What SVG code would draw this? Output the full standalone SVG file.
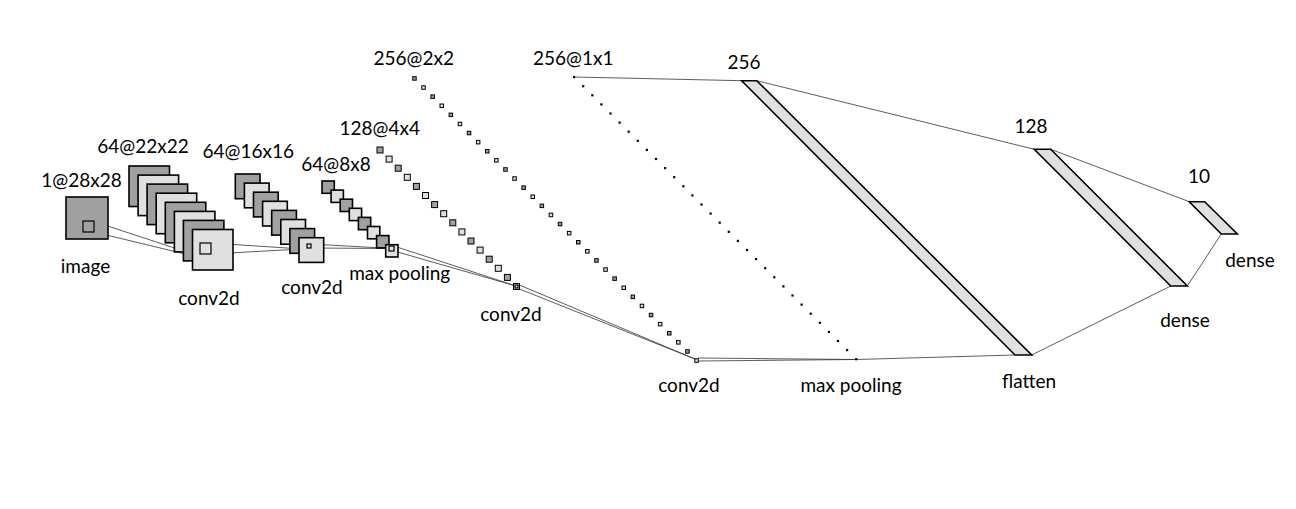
<svg xmlns="http://www.w3.org/2000/svg" width="1296" height="509" viewBox="0 0 1296 509">
<style>
text{font-family:Lato,"Liberation Sans",sans-serif;font-size:19px;fill:#000;text-anchor:middle}
.d{fill:#a0a0a0;stroke:#000;stroke-width:1.6}
.l{fill:#e0e0e0;stroke:#000;stroke-width:1.6}
.ds{fill:#a0a0a0;stroke:#000;stroke-width:1}
.ls{fill:#e0e0e0;stroke:#000;stroke-width:1}
.k{fill:none;stroke:#000;stroke-width:1.2}
.dot{fill:#000}
.c{stroke:#333;stroke-width:0.8;fill:none}
.bar{fill:#e0e0e0;stroke:#000;stroke-width:1.6}
</style>
<rect width="1296" height="509" fill="#fff"/>
<g id="connectors">
<line class="c" x1="94" y1="221.5" x2="214" y2="261"/>
<line class="c" x1="94" y1="232" x2="214" y2="261"/>
<line class="c" x1="211" y1="243" x2="302" y2="249"/>
<line class="c" x1="211" y1="254" x2="302" y2="249"/>
<line class="c" x1="311" y1="244" x2="391" y2="248.5"/>
<line class="c" x1="311" y1="248" x2="391" y2="248.5"/>
<line class="c" x1="394" y1="246" x2="516" y2="286"/>
<line class="c" x1="394" y1="251" x2="516" y2="286"/>
<line class="c" x1="517" y1="284" x2="695" y2="359"/>
<line class="c" x1="517" y1="288" x2="695" y2="359"/>
<line class="c" x1="698" y1="358" x2="856" y2="359.5"/>
<line class="c" x1="698" y1="361" x2="856" y2="359.5"/>
<line class="c" x1="574" y1="77" x2="741.7" y2="80.7"/>
<line class="c" x1="856" y1="359.5" x2="1015" y2="355"/>
<line class="c" x1="756.7" y1="80.7" x2="1034.3" y2="149.3"/>
<line class="c" x1="1031.7" y1="355" x2="1170.7" y2="286"/>
<line class="c" x1="1050.7" y1="149.3" x2="1189.3" y2="201.7"/>
<line class="c" x1="1187.3" y1="286" x2="1221.3" y2="234"/>
</g>
<g id="image">
<rect class="d" x="66" y="197" width="42" height="42"/>
<rect class="k" x="83" y="221" width="11" height="11"/>
<text x="85.5" y="273">image</text>
<text x="81.5" y="186.5">1@28x28</text>
</g>
<g id="conv1">
<rect class="d" x="129" y="166" width="40.5" height="40.5"/>
<rect class="l" x="138.1" y="175.1" width="40.5" height="40.5"/>
<rect class="d" x="147.1" y="184.1" width="40.5" height="40.5"/>
<rect class="l" x="156.2" y="193.2" width="40.5" height="40.5"/>
<rect class="d" x="165.3" y="202.3" width="40.5" height="40.5"/>
<rect class="l" x="174.4" y="211.4" width="40.5" height="40.5"/>
<rect class="d" x="183.4" y="220.4" width="40.5" height="40.5"/>
<rect class="l" x="192.5" y="229.5" width="40.5" height="40.5"/>
<rect class="k" x="200" y="243" width="11" height="11"/>
<text x="143" y="152.7">64@22x22</text>
<text x="209" y="305">conv2d</text>
</g>
<g id="conv2">
<rect class="d" x="235.3" y="174" width="24.7" height="24.7"/>
<rect class="l" x="244.4" y="183.1" width="24.7" height="24.7"/>
<rect class="d" x="253.5" y="192.2" width="24.7" height="24.7"/>
<rect class="l" x="262.6" y="201.3" width="24.7" height="24.7"/>
<rect class="d" x="271.7" y="210.4" width="24.7" height="24.7"/>
<rect class="l" x="280.8" y="219.5" width="24.7" height="24.7"/>
<rect class="d" x="289.9" y="228.6" width="24.7" height="24.7"/>
<rect class="l" x="299" y="237.7" width="24.7" height="24.7"/>
<rect class="k" x="307" y="244" width="4" height="4"/>
<text x="248.3" y="158">64@16x16</text>
<text x="312" y="294">conv2d</text>
</g>
<g id="pool1">
<rect class="d" x="322" y="181" width="12.3" height="12.3"/>
<rect class="l" x="331.1" y="190.1" width="12.3" height="12.3"/>
<rect class="d" x="340.2" y="199.2" width="12.3" height="12.3"/>
<rect class="l" x="349.3" y="208.3" width="12.3" height="12.3"/>
<rect class="d" x="358.4" y="217.4" width="12.3" height="12.3"/>
<rect class="l" x="367.5" y="226.5" width="12.3" height="12.3"/>
<rect class="d" x="376.6" y="235.6" width="12.3" height="12.3"/>
<rect class="l" x="385.7" y="244.7" width="12.3" height="12.3"/>
<rect class="k" x="389" y="246" width="5" height="5"/>
<text x="336" y="170.5">64@8x8</text>
<text x="399.7" y="280">max pooling</text>
</g>
<g id="conv3">
<rect class="ds" x="377" y="147" width="6" height="6"/>
<rect class="ls" x="386.1" y="156.1" width="6" height="6"/>
<rect class="ds" x="395.2" y="165.2" width="6" height="6"/>
<rect class="ls" x="404.3" y="174.3" width="6" height="6"/>
<rect class="ds" x="413.4" y="183.4" width="6" height="6"/>
<rect class="ls" x="422.5" y="192.5" width="6" height="6"/>
<rect class="ds" x="431.6" y="201.6" width="6" height="6"/>
<rect class="ls" x="440.7" y="210.7" width="6" height="6"/>
<rect class="ds" x="449.8" y="219.8" width="6" height="6"/>
<rect class="ls" x="458.9" y="228.9" width="6" height="6"/>
<rect class="ds" x="468" y="238" width="6" height="6"/>
<rect class="ls" x="477.1" y="247.1" width="6" height="6"/>
<rect class="ds" x="486.2" y="256.2" width="6" height="6"/>
<rect class="ls" x="495.3" y="265.3" width="6" height="6"/>
<rect class="ds" x="504.4" y="274.4" width="6" height="6"/>
<rect class="ls" x="513.5" y="283.5" width="6" height="6"/>
<rect class="k" x="515" y="285" width="3" height="3"/>
<text x="379.7" y="135">128@4x4</text>
<text x="511" y="321">conv2d</text>
</g>
<g id="conv4">
<rect class="ds" x="412.7" y="76.7" width="3.5" height="3.5"/>
<rect class="ls" x="421.8" y="85.8" width="3.5" height="3.5"/>
<rect class="ds" x="430.9" y="94.9" width="3.5" height="3.5"/>
<rect class="ls" x="440" y="104" width="3.5" height="3.5"/>
<rect class="ds" x="449.1" y="113.1" width="3.5" height="3.5"/>
<rect class="ls" x="458.2" y="122.2" width="3.5" height="3.5"/>
<rect class="ds" x="467.3" y="131.3" width="3.5" height="3.5"/>
<rect class="ls" x="476.4" y="140.4" width="3.5" height="3.5"/>
<rect class="ds" x="485.5" y="149.5" width="3.5" height="3.5"/>
<rect class="ls" x="494.6" y="158.6" width="3.5" height="3.5"/>
<rect class="ds" x="503.7" y="167.7" width="3.5" height="3.5"/>
<rect class="ls" x="512.8" y="176.8" width="3.5" height="3.5"/>
<rect class="ds" x="521.9" y="185.9" width="3.5" height="3.5"/>
<rect class="ls" x="531" y="195" width="3.5" height="3.5"/>
<rect class="ds" x="540.1" y="204.1" width="3.5" height="3.5"/>
<rect class="ls" x="549.2" y="213.2" width="3.5" height="3.5"/>
<rect class="ds" x="558.3" y="222.3" width="3.5" height="3.5"/>
<rect class="ls" x="567.4" y="231.4" width="3.5" height="3.5"/>
<rect class="ds" x="576.5" y="240.5" width="3.5" height="3.5"/>
<rect class="ls" x="585.6" y="249.6" width="3.5" height="3.5"/>
<rect class="ds" x="594.7" y="258.7" width="3.5" height="3.5"/>
<rect class="ls" x="603.8" y="267.8" width="3.5" height="3.5"/>
<rect class="ds" x="612.9" y="276.9" width="3.5" height="3.5"/>
<rect class="ls" x="622" y="286" width="3.5" height="3.5"/>
<rect class="ds" x="631.1" y="295.1" width="3.5" height="3.5"/>
<rect class="ls" x="640.2" y="304.2" width="3.5" height="3.5"/>
<rect class="ds" x="649.3" y="313.3" width="3.5" height="3.5"/>
<rect class="ls" x="658.4" y="322.4" width="3.5" height="3.5"/>
<rect class="ds" x="667.5" y="331.5" width="3.5" height="3.5"/>
<rect class="ls" x="676.6" y="340.6" width="3.5" height="3.5"/>
<rect class="ds" x="685.7" y="349.7" width="3.5" height="3.5"/>
<rect class="ls" x="694.8" y="358.8" width="3.5" height="3.5"/>
<text x="413.8" y="65">256@2x2</text>
<text x="689" y="392">conv2d</text>
</g>
<g id="pool2">
<rect class="dot" x="573" y="76" width="2.2" height="2.2"/>
<rect class="dot" x="582.1" y="85.1" width="2.2" height="2.2"/>
<rect class="dot" x="591.2" y="94.2" width="2.2" height="2.2"/>
<rect class="dot" x="600.3" y="103.3" width="2.2" height="2.2"/>
<rect class="dot" x="609.4" y="112.4" width="2.2" height="2.2"/>
<rect class="dot" x="618.5" y="121.5" width="2.2" height="2.2"/>
<rect class="dot" x="627.6" y="130.6" width="2.2" height="2.2"/>
<rect class="dot" x="636.7" y="139.7" width="2.2" height="2.2"/>
<rect class="dot" x="645.8" y="148.8" width="2.2" height="2.2"/>
<rect class="dot" x="654.9" y="157.9" width="2.2" height="2.2"/>
<rect class="dot" x="664" y="167" width="2.2" height="2.2"/>
<rect class="dot" x="673.1" y="176.1" width="2.2" height="2.2"/>
<rect class="dot" x="682.2" y="185.2" width="2.2" height="2.2"/>
<rect class="dot" x="691.3" y="194.3" width="2.2" height="2.2"/>
<rect class="dot" x="700.4" y="203.4" width="2.2" height="2.2"/>
<rect class="dot" x="709.5" y="212.5" width="2.2" height="2.2"/>
<rect class="dot" x="718.6" y="221.6" width="2.2" height="2.2"/>
<rect class="dot" x="727.7" y="230.7" width="2.2" height="2.2"/>
<rect class="dot" x="736.8" y="239.8" width="2.2" height="2.2"/>
<rect class="dot" x="745.9" y="248.9" width="2.2" height="2.2"/>
<rect class="dot" x="755" y="258" width="2.2" height="2.2"/>
<rect class="dot" x="764.1" y="267.1" width="2.2" height="2.2"/>
<rect class="dot" x="773.2" y="276.2" width="2.2" height="2.2"/>
<rect class="dot" x="782.3" y="285.3" width="2.2" height="2.2"/>
<rect class="dot" x="791.4" y="294.4" width="2.2" height="2.2"/>
<rect class="dot" x="800.5" y="303.5" width="2.2" height="2.2"/>
<rect class="dot" x="809.6" y="312.6" width="2.2" height="2.2"/>
<rect class="dot" x="818.7" y="321.7" width="2.2" height="2.2"/>
<rect class="dot" x="827.8" y="330.8" width="2.2" height="2.2"/>
<rect class="dot" x="836.9" y="339.9" width="2.2" height="2.2"/>
<rect class="dot" x="846" y="349" width="2.2" height="2.2"/>
<rect class="dot" x="855.1" y="358.1" width="2.2" height="2.2"/>
<text x="573.3" y="65">256@1x1</text>
<text x="851" y="392">max pooling</text>
</g>
<g id="flatten">
<polygon class="bar" points="741.7,80.7 756.7,80.7 1031.7,355 1015,355"/>
<text x="744" y="69.3">256</text>
<text x="1029" y="388">flatten</text>
</g>
<g id="dense1">
<polygon class="bar" points="1034.3,149.3 1050.7,149.3 1187.3,286 1170.7,286"/>
<text x="1031" y="133.3">128</text>
<text x="1185" y="327.3">dense</text>
</g>
<g id="dense2">
<polygon class="bar" points="1189.3,201.7 1204.7,201.7 1237.3,234 1221.3,234"/>
<text x="1199" y="183.3">10</text>
<text x="1250" y="266.7">dense</text>
</g>
</svg>
